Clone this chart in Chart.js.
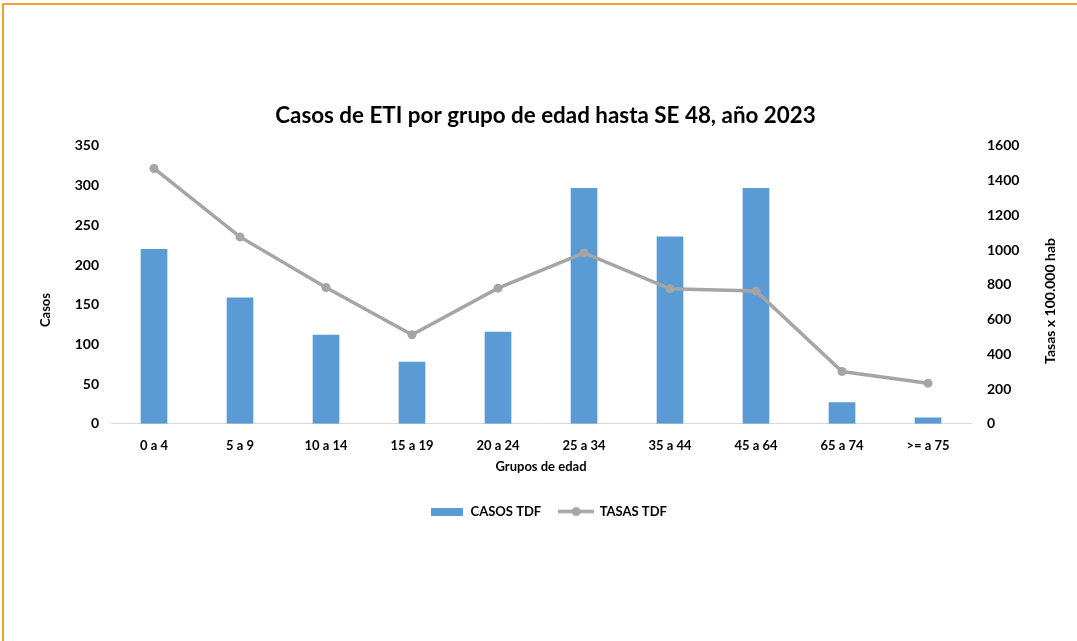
<!DOCTYPE html>
<html>
<head>
<meta charset="utf-8">
<script src="https://cdn.jsdelivr.net/npm/chart.js@4/dist/chart.umd.min.js"></script>
<style>
  html, body { margin: 0; padding: 0; background: #fff; }
  .frame {
    position: absolute; left: 2px; top: 3px; width: 1075px; height: 636px;
    border-top: 2px solid #F4A033; border-left: 2px solid #F4A033;
    border-bottom: 1px solid #FCE3C6;
  }
  .wrap { position: absolute; left: 0; top: 0; width: 1077px; height: 641px; }
</style>
</head>
<body>
<div class="frame"></div>
<div class="wrap"><canvas id="chart" width="1077" height="641"></canvas></div>
<script>
const groups = ["0 a 4", "5 a 9", "10 a 14", "15 a 19", "20 a 24", "25 a 34", "35 a 44", "45 a 64", "65 a 74", ">= a 75"];
const casos = [220, 159, 112, 78, 116, 297, 236, 297, 27, 8];
const tasas = [1470, 1076, 785, 512, 781, 984, 777, 764, 301, 234];

const BLUE = "#5B9BD5";
const GRAY = "#A5A5A5";
const FONT = "Lato, 'Open Sans', sans-serif";

// legend swatches
function swatchBar() {
  const c = document.createElement("canvas");
  c.width = 32; c.height = 8;
  const g = c.getContext("2d");
  g.fillStyle = BLUE;
  g.fillRect(0, 0, 32, 8);
  return c;
}
function swatchLine() {
  const c = document.createElement("canvas");
  c.width = 36; c.height = 12;
  const g = c.getContext("2d");
  g.strokeStyle = GRAY; g.lineWidth = 3.5;
  g.beginPath(); g.moveTo(0, 6); g.lineTo(36, 6); g.stroke();
  g.fillStyle = GRAY;
  g.beginPath(); g.arc(18, 6, 4.5, 0, Math.PI * 2); g.fill();
  return c;
}
const swatches = { "CASOS TDF": swatchBar(), "TASAS TDF": swatchLine() };

// the original has title and legend sitting a little right of centre
const nudge = {
  id: "nudge",
  afterLayout(chart) {
    chart.legend.left += 10; chart.legend.right += 10;
    chart.titleBlock.left += 7; chart.titleBlock.right += 7;
  },
};

// vertical axis titles, placed like the original (a bit below the middle)
const axisTitles = {
  id: "axisTitles",
  afterDraw(chart) {
    const g = chart.ctx;
    g.save();
    g.fillStyle = "#000";
    g.font = "bold 13px " + FONT;
    g.textAlign = "center";
    g.textBaseline = "middle";
    g.translate(46, 310);
    g.rotate(-Math.PI / 2);
    g.fillText("Casos", 0, 0);
    g.restore();
    g.save();
    g.fillStyle = "#000";
    g.font = "bold 14px " + FONT;
    g.textAlign = "center";
    g.textBaseline = "middle";
    g.translate(1050, 301);
    g.rotate(-Math.PI / 2);
    g.fillText("Tasas x 100.000 hab", 0, 0);
    g.restore();
  },
};

const ctx = document.getElementById("chart");
new Chart(ctx, {
  data: {
    labels: groups,
    datasets: [
      {
        type: "line",
        label: "TASAS TDF",
        data: tasas,
        yAxisID: "y2",
        borderColor: GRAY,
        backgroundColor: GRAY,
        borderWidth: 3.5,
        pointRadius: 4.5,
        pointBackgroundColor: GRAY,
        pointBorderWidth: 0,
        order: 0,
      },
      {
        type: "bar",
        label: "CASOS TDF",
        data: casos,
        yAxisID: "y",
        backgroundColor: BLUE,
        barPercentage: 0.31,
        categoryPercentage: 1,
        order: 1,
      },
    ],
  },
  options: {
    responsive: false,
    animation: false,
    layout: { padding: { top: 102, bottom: 113, left: 0, right: 0 } },
    plugins: {
      title: {
        display: true,
        text: "Casos de ETI por grupo de edad hasta SE 48, año 2023",
        color: "#000",
        font: { family: FONT, size: 22.4, weight: "bold" },
        padding: { top: 0, bottom: 17 },
      },
      legend: {
        position: "bottom",
        reverse: true,
        labels: {
          usePointStyle: true,
          pointStyleWidth: 34,
          color: "#000",
          font: { family: FONT, size: 13, weight: "bold" },
          padding: 18,
          generateLabels(chart) {
            const items = Chart.defaults.plugins.legend.labels.generateLabels(chart);
            items.forEach((it) => { it.pointStyle = swatches[it.text]; });
            return items;
          },
        },
      },
      tooltip: { enabled: false },
    },
    scales: {
      x: {
        grid: { display: false, drawTicks: false },
        border: { color: "#D9D9D9", width: 1 },
        ticks: { color: "#000", font: { family: FONT, size: 13, weight: "bold" }, padding: 14, maxRotation: 0 },
        title: { display: true, text: "Grupos de edad", color: "#000", font: { family: FONT, size: 13, weight: "bold" }, padding: { top: -8, bottom: 12 } },
      },
      y: {
        position: "left",
        min: 0, max: 350,
        grid: { display: false, drawTicks: false },
        border: { display: false },
        ticks: { stepSize: 50, color: "#000", font: { family: FONT, size: 14, weight: "bold" }, padding: 12 },
        afterFit: (s) => { s.width = 111; },
      },
      y2: {
        position: "right",
        min: 0, max: 1600,
        grid: { display: false, drawTicks: false },
        border: { display: false },
        ticks: {
          stepSize: 200, color: "#000", font: { family: FONT, size: 14, weight: "bold" }, padding: 16,
          callback: (v) => String(v),
        },
        afterFit: (s) => { s.width = 106; },
      },
    },
  },
  plugins: [nudge, axisTitles],
});
</script>
</body>
</html>
